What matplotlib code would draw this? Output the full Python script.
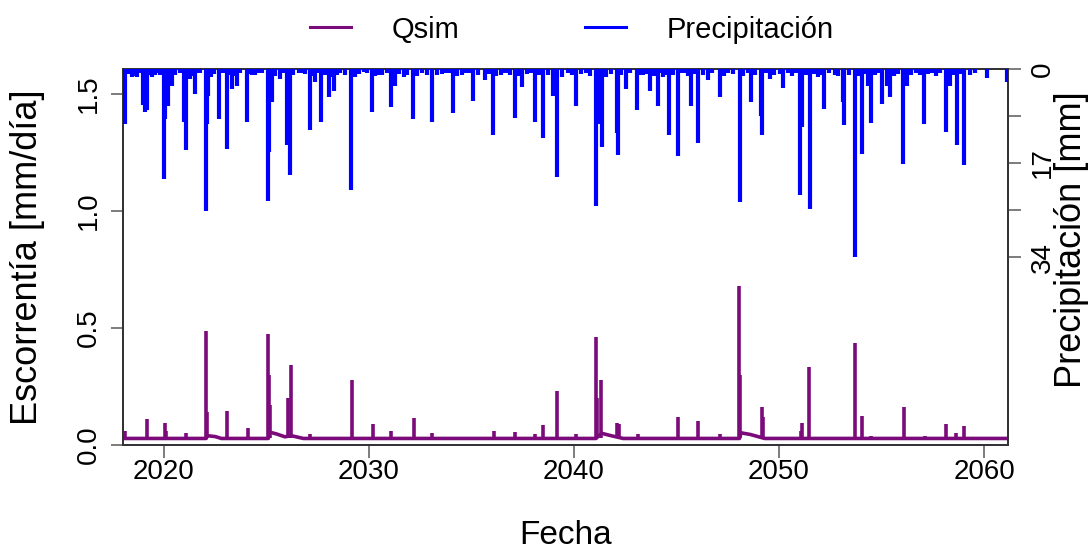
import numpy as np
import matplotlib
matplotlib.use("Agg")
import matplotlib.pyplot as plt
from matplotlib.lines import Line2D

plt.rcParams['font.family'] = ['Liberation Sans', 'DejaVu Sans']

# Precipitación diaria (años decimales, mm) - eventos
PREC_T = [2018.10, 2018.42, 2018.70, 2019.00, 2019.07, 2019.15, 2019.40, 2019.56, 2019.80,
          2020.00, 2020.05, 2020.20, 2020.38, 2021.00, 2021.07, 2021.27, 2021.50, 2021.76,
          2022.05, 2022.10, 2022.16, 2022.70, 2023.06, 2023.30, 2023.55, 2024.03, 2024.28,
          2024.60, 2025.06, 2025.10, 2025.27, 2025.67, 2026.00, 2026.16, 2026.57, 2026.73,
          2027.10, 2027.38, 2027.67, 2028.03, 2028.28, 2028.44, 2029.14, 2029.33, 2029.74,
          2030.15, 2030.47, 2031.07, 2031.28, 2031.69, 2032.15, 2033.09, 2033.33, 2033.74,
          2034.11, 2034.72, 2035.09, 2035.64, 2036.03, 2036.42, 2036.75, 2037.12, 2037.48,
          2038.08, 2038.50, 2038.99, 2039.19, 2040.10, 2040.59, 2041.07, 2041.20, 2041.35,
          2042.08, 2042.13, 2042.54, 2043.07, 2043.35, 2043.72, 2044.08, 2044.33, 2044.65,
          2045.06, 2045.38, 2045.71, 2046.07, 2046.52, 2047.10, 2047.51, 2048.08, 2048.49,
          2048.65, 2049.10, 2049.17, 2049.55, 2050.20, 2050.44, 2051.02, 2051.10, 2051.50,
          2051.90, 2052.20, 2052.72, 2053.10, 2053.17, 2053.70, 2054.07, 2054.36, 2054.49,
          2055.04, 2055.25, 2055.42, 2056.07, 2056.23, 2057.07, 2057.45, 2058.13, 2058.34,
          2058.67, 2059.04, 2060.13, 2061.10]
PREC_MM = [9.9, 1.4, 1.4, 6.5, 7.8, 7.5, 1.4, 1.1, 1.1,
           19.8, 9.0, 6.6, 3.0, 9.5, 14.7, 1.8, 4.5, 0.8,
           25.6, 10.0, 4.8, 9.0, 14.4, 3.6, 3.0, 9.5, 1.1,
           0.8, 23.8, 15.0, 6.0, 1.8, 13.8, 19.2, 0.8, 0.8,
           11.1, 2.4, 9.5, 5.1, 3.9, 1.1, 21.9, 1.4, 0.5,
           7.8, 1.1, 6.9, 3.0, 1.4, 9.0, 9.5, 1.1, 0.8,
           7.9, 0.8, 5.7, 2.0, 11.9, 1.1, 0.8, 8.9, 3.3,
           9.6, 12.5, 4.8, 19.5, 6.7, 0.8, 24.8, 10.0, 14.1,
           11.5, 15.6, 3.6, 7.5, 1.1, 4.0, 6.7, 1.4, 11.9,
           15.7, 0.8, 6.7, 13.3, 2.0, 5.1, 0.8, 24.1, 0.8,
           6.0, 8.5, 11.9, 1.8, 3.4, 0.8, 22.7, 10.5, 25.3,
           1.4, 7.2, 1.1, 6.0, 10.2, 34.0, 15.3, 3.0, 9.7,
           6.3, 3.0, 5.1, 17.1, 3.0, 9.9, 0.8, 11.3, 3.0,
           13.8, 17.4, 1.6, 2.4]

# Lluvias pequeñas que llenan la franja superior
PREC_SMALL_T = [2018.25, 2018.55, 2018.85, 2019.25, 2019.68, 2020.12, 2020.55, 2020.80,
                2021.15, 2021.40, 2021.62, 2022.30, 2022.45, 2022.90, 2023.15, 2023.42,
                2023.70, 2024.15, 2024.45, 2024.80, 2025.40, 2025.85, 2026.30, 2026.90,
                2027.25, 2027.55, 2027.85, 2028.15, 2028.60, 2028.85, 2029.50, 2029.90,
                2030.30, 2030.65, 2030.90, 2031.45, 2031.85, 2032.35, 2032.60, 2032.85,
                2033.55, 2033.90, 2034.30, 2034.55, 2034.90, 2035.30, 2035.85, 2036.20,
                2036.60, 2036.90, 2037.30, 2037.70, 2037.90, 2038.30, 2038.75, 2039.40,
                2039.70, 2039.90, 2040.35, 2040.80, 2041.55, 2041.80, 2042.30, 2042.75,
                2043.20, 2043.55, 2043.90, 2044.20, 2044.50, 2044.85, 2045.25, 2045.55,
                2045.90, 2046.30, 2046.75, 2047.30, 2047.75, 2048.25, 2048.85, 2049.35,
                2049.75, 2050.05, 2050.65, 2050.85, 2051.30, 2051.70, 2052.05, 2052.45,
                2052.90, 2053.40, 2053.90, 2054.25, 2054.70, 2054.85, 2055.60, 2055.80,
                2056.45, 2056.70, 2056.90, 2057.25, 2057.65, 2057.85, 2058.50, 2058.85,
                2059.30, 2059.55]
PREC_SMALL_MM = [0.9, 1.2, 0.8, 1.0, 0.8, 1.5, 1.0, 0.8, 0.9, 1.2, 0.8, 1.4, 0.9, 0.8,
                 1.0, 1.2, 0.8, 0.9, 1.1, 0.8, 1.3, 0.8, 1.0, 0.9, 1.2, 0.8, 1.0, 1.4,
                 0.8, 1.1, 0.9, 0.8, 1.2, 1.0, 0.8, 0.9, 1.1, 1.3, 0.8, 1.0, 0.9, 0.8,
                 1.2, 1.0, 0.8, 1.1, 0.9, 1.3, 0.8, 1.0, 1.2, 0.9, 0.8, 1.1, 1.0, 1.4,
                 0.8, 1.0, 0.9, 1.2, 1.5, 0.9, 1.1, 0.8, 1.0, 0.9, 1.2, 0.8, 1.1, 1.0,
                 0.8, 1.3, 0.9, 1.0, 0.8, 1.2, 0.9, 1.3, 1.0, 0.8, 1.1, 0.9, 1.2, 0.8,
                 1.0, 0.9, 1.1, 0.8, 1.2, 1.0, 1.3, 0.9, 1.0, 0.8, 1.2, 0.9, 1.0, 0.8,
                 1.1, 0.9, 1.2, 0.8, 1.0, 0.9, 1.1, 0.8]

# Escorrentía simulada: picos (años decimales, mm/día)
QPEAK_T = [2018.10, 2019.15, 2020.05, 2020.10, 2021.07, 2022.05, 2022.09, 2023.06, 2024.08,
           2025.09, 2025.12, 2025.15, 2026.06, 2026.20, 2027.12, 2029.15, 2030.18, 2031.07,
           2032.20, 2033.09, 2036.10, 2037.12, 2038.10, 2038.50, 2039.16, 2040.10, 2041.07,
           2041.12, 2041.32, 2042.08, 2042.20, 2043.10, 2045.09, 2046.07, 2047.10, 2048.07,
           2048.11, 2049.15, 2049.22, 2051.05, 2051.10, 2051.48, 2053.70, 2054.07, 2054.50,
           2056.11, 2057.10, 2058.15, 2058.65, 2059.04]
QPEAK_V = [0.061, 0.11, 0.093, 0.06, 0.053, 0.489, 0.14, 0.145, 0.071,
           0.473, 0.30, 0.17, 0.20, 0.342, 0.047, 0.278, 0.09, 0.061,
           0.117, 0.053, 0.061, 0.057, 0.045, 0.085, 0.232, 0.045, 0.46,
           0.20, 0.278, 0.095, 0.09, 0.045, 0.118, 0.104, 0.045, 0.68,
           0.30, 0.164, 0.12, 0.06, 0.095, 0.335, 0.435, 0.124, 0.04,
           0.161, 0.04, 0.088, 0.05, 0.083]

# Flujo base y recesiones
QBASE_T = [2018.00, 2022.06, 2022.10, 2022.50, 2022.80, 2025.09, 2025.15, 2025.50, 2025.90,
           2026.20, 2026.40, 2026.80, 2041.07, 2041.35, 2041.80, 2042.40, 2048.07, 2048.15,
           2048.60, 2049.30, 2061.20]
QBASE_V = [0.028, 0.028, 0.040, 0.036, 0.028, 0.028, 0.055, 0.047, 0.035,
           0.040, 0.036, 0.028, 0.028, 0.050, 0.040, 0.028, 0.028, 0.052,
           0.045, 0.028, 0.028]

QSIM_COLOR = '#7b0a7b'
PREC_COLOR = '#0000ff'


def main():
    fig = plt.figure(figsize=(10.92, 5.50), dpi=100)
    ax = fig.add_axes([0.1126, 0.1909, 0.8105, 0.6836])

    ax.plot(QBASE_T, QBASE_V, color=QSIM_COLOR, lw=2.6, zorder=2)
    ax.vlines(QPEAK_T, 0.028, QPEAK_V, color=QSIM_COLOR, lw=2.6, zorder=2)
    ax.set_xlim(2018.0, 2061.17)
    ax.set_ylim(0, 1.607)
    ax.set_yticks([0, 0.5, 1.0, 1.5])
    ax.set_yticklabels(['0.0', '0.5', '1.0', '1.5'], rotation=90, va='center')
    ax.set_xticks([2020, 2030, 2040, 2050, 2060])
    ax.tick_params(axis='both', labelsize=20, length=9, width=1.2, color='#666666')
    ax.tick_params(axis='y', pad=6)
    ax.tick_params(axis='x', pad=1)
    ax.set_xlabel('Fecha', fontsize=24)
    ax.xaxis.set_label_coords(0.5, -0.2)
    ax.set_ylabel('Escorrentía [mm/día]', fontsize=26)
    ax.yaxis.set_label_coords(-0.088, 0.5)

    ax2 = ax.twinx()
    ax2.vlines(PREC_SMALL_T, 0, PREC_SMALL_MM, color=PREC_COLOR, lw=3.0, zorder=3)
    ax2.vlines(PREC_T, 0, PREC_MM, color=PREC_COLOR, lw=3.0, zorder=3)
    ax2.set_ylim(68, 0)
    ax2.set_yticks([0, 8.5, 17, 25.5, 34])
    ax2.set_yticklabels(['0', '', '17', '', '34'], rotation=90, va='center')
    ax2.tick_params(axis='y', labelsize=20, length=9, width=1.2, color='#666666', pad=7)
    ax2.set_ylabel('Precipitación [mm]', fontsize=26, rotation=90)
    ax2.yaxis.set_label_coords(1.052, 0.545)

    for a in (ax, ax2):
        for s in a.spines.values():
            s.set_color('#333333')
            s.set_linewidth(1.3)

    handles = [Line2D([], [], color=QSIM_COLOR, lw=2.2),
               Line2D([], [], color=PREC_COLOR, lw=2.2)]
    fig.legend(handles, ['Qsim', 'Precipitación'], loc='center',
               bbox_to_anchor=(0.524, 0.946), ncol=2, frameon=False, fontsize=21,
               handlelength=1.4, handletextpad=1.4, columnspacing=4.3)

    fig.savefig('out.png', dpi=100)
    plt.close(fig)


if __name__ == '__main__':
    main()
